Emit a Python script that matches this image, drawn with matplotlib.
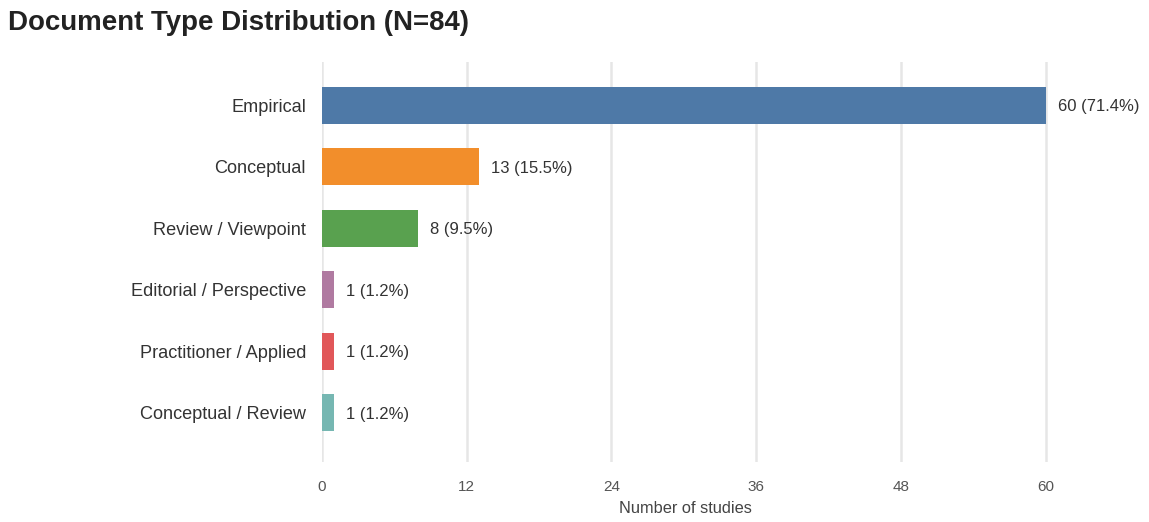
import matplotlib
matplotlib.use("Agg")
import matplotlib.pyplot as plt

categories = ["Empirical", "Conceptual", "Review / Viewpoint", "Editorial / Perspective",
              "Practitioner / Applied", "Conceptual / Review"]
counts = [60, 13, 8, 1, 1, 1]
total = 84
colors = ["#4E79A7", "#F28E2B", "#59A14F", "#B07AA1", "#E15759", "#76B7B2"]
xticks = [0, 12, 24, 36, 48, 60]

plt.rcParams['font.family'] = ['Liberation Sans', 'DejaVu Sans']

fig = plt.figure(figsize=(11.49, 5.22), dpi=100)
ax = fig.add_axes([322/1149, 1 - 462/522, (1048-322)/1149, 400/522])

y = list(range(len(categories)))
ax.barh(y, counts, height=0.6, color=colors, zorder=3)
for yi, c in zip(y, counts):
    ax.annotate(f"{c} ({c/total*100:.1f}%)", xy=(c, yi), xytext=(12, 0),
                textcoords='offset pixels', va='center_baseline', ha='left',
                fontsize=12, color='#333333', annotation_clip=False)

ax.set_ylim(5.8, -0.7)
ax.set_xlim(0, 60.2)
ax.set_yticks(y)
ax.set_yticklabels(categories, fontsize=13.1, color='#333333', va='center_baseline')
ax.set_xticks(xticks)
ax.set_xticklabels([str(t) for t in xticks], fontsize=11, color='#555555')
ax.tick_params(axis='both', length=0)
ax.tick_params(axis='x', pad=13)
ax.tick_params(axis='y', pad=11.5)
ax.grid(axis='x', color='#e6e6e6', linewidth=1.8, zorder=0)
for s in ax.spines.values():
    s.set_visible(False)
ax.set_xlabel("Number of studies", fontsize=11.8, color='#444444', labelpad=5)
fig.text(8/1149, 1 - 23/522, "Document Type Distribution (N=84)", fontsize=19.9,
         fontweight='bold', color='#222222', va='center', ha='left')

fig.savefig("out.png", dpi=100)
